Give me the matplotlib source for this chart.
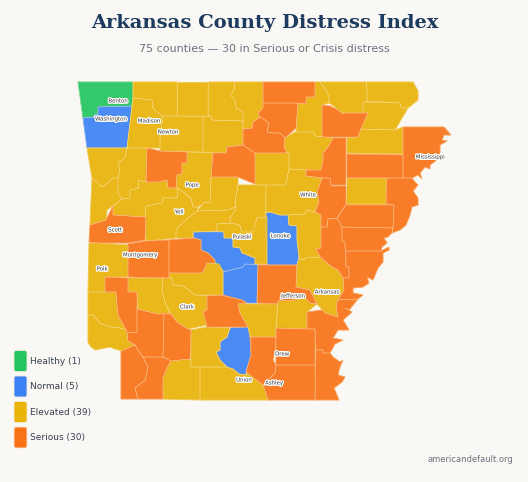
import matplotlib
matplotlib.use('Agg')
import matplotlib.pyplot as plt
from matplotlib.patches import Polygon, FancyBboxPatch
import matplotlib.patheffects as pe

# county outlines, in picture pixels
benton = [(78,82),(133,82),(133,98),(132,106),(98,107),(98,114),(94,115),(94,117),(83,118)]
washington = [(83,118),(94,117),(94,115),(98,114),(98,107),(132,106),(127,148),(87,148)]
carroll = [(133,82),(177,82),(177,116),(163,116),(157,112),(153,108),(152,100),(133,98)]
boone = [(177,82),(208,82),(208,116),(177,116)]
marion = [(208,82),(235,82),(234,90),(230,95),(235,100),(236,108),(243,112),(243,121),(212,120),(211,116),(208,116)]
baxter = [(235,82),(263,82),(263,108),(258,113),(260,117),(253,122),(252,128),(243,129),(243,112),(236,108),(235,100),(230,95),(234,90)]
madison = [(133,98),(152,100),(153,108),(157,112),(163,116),(160,138),(160,148),(127,148),(132,106)]
newton = [(163,116),(203,116),(203,152),(160,151),(160,138)]
searcy = [(203,116),(211,116),(212,120),(243,121),(243,145),(227,147),(226,153),(203,152)]
fulton = [(263,82),(315,82),(315,97),(306,97),(306,104),(298,103),(263,103)]
izard = [(263,103),(298,103),(296,128),(285,138),(280,133),(273,133),(267,132),(269,123),(265,120),(260,117),(258,113),(263,108)]
stone = [(243,129),(252,128),(253,122),(260,117),(265,120),(269,123),(267,132),(273,133),(280,133),(285,138),(284,147),(287,153),(255,153),(243,145)]
van_buren = [(227,147),(243,145),(255,153),(255,184),(238,177),(211,177),(213,153),(226,153)]
cleburne = [(255,153),(289,153),(289,169),(286,185),(255,185)]
sharp = [(315,82),(320,82),(326,90),(329,97),(329,103),(322,105),(322,137),(315,136),(314,132),(296,132),(298,104),(306,104),(306,97),(315,97)]
randolph = [(320,82),(366,82),(367,88),(367,101),(363,102),(363,113),(343,113),(338,110),(335,107),(329,103),(329,97),(326,90)]
clay = [(366,82),(413,82),(418,91),(418,100),(408,108),(401,108),(400,103),(367,101),(367,88)]
greene = [(363,102),(400,103),(401,108),(408,108),(395,130),(361,129),(368,113),(363,113)]
lawrence = [(322,105),(330,106),(338,110),(343,114),(345,113),(368,113),(361,129),(358,137),(322,137)]
independence = [(285,138),(295,132),(314,132),(315,136),(333,138),(328,147),(323,153),(323,160),(321,170),(306,170),(289,169),(289,153),(287,153),(284,145)]
jackson = [(333,138),(346,138),(346,185),(331,185),(330,178),(322,178),(306,176),(306,170),(321,170),(323,160),(323,153),(328,147)]
craighead = [(358,137),(361,129),(395,130),(403,127),(403,154),(347,153),(347,138)]
mississippi = [(403,127),(444,127),(451,135),(444,135),(442,140),(447,141),(440,145),(440,152),(437,160),(430,165),(430,169),(425,167),(420,173),(422,179),(418,175),(412,178),(403,178)]
poinsett = [(347,154),(403,155),(403,178),(387,178),(347,178)]
cross = [(347,178),(386,178),(386,204),(346,204)]
crittenden = [(387,178),(412,178),(415,182),(418,185),(413,191),(418,198),(418,205),(412,207),(410,215),(406,225),(400,230),(392,233),(393,227),(394,205),(386,204)]
st_francis = [(346,205),(394,205),(393,228),(342,227),(337,218)]
woodruff = [(331,186),(346,186),(346,204),(337,218),(328,219),(327,227),(321,227),(321,215),(315,212),(319,202),(317,192),(322,178),(330,178)]
white = [(289,169),(306,170),(306,176),(322,178),(317,192),(319,202),(315,212),(307,210),(305,214),(288,215),(280,215),(270,212),(265,213),(266,185),(285,185)]
lonoke = [(265,212),(270,212),(280,215),(288,215),(289,225),(297,226),(297,240),(299,252),(299,258),(297,265),(267,265)]
prairie = [(288,215),(305,214),(307,210),(315,212),(321,215),(321,248),(316,249),(320,257),(305,258),(304,260),(299,258),(297,240),(297,226),(289,225)]
monroe = [(321,227),(327,227),(328,219),(337,218),(342,227),(342,241),(345,242),(346,267),(349,267),(349,278),(343,278),(338,270),(332,267),(320,257),(316,249),(321,248)]
lee = [(342,227),(393,228),(392,233),(388,237),(384,238),(387,243),(382,247),(381,251),(345,251),(345,242),(342,241)]
phillips = [(346,251),(381,251),(389,247),(389,250),(383,253),(383,262),(378,268),(373,280),(367,277),(369,283),(363,287),(353,288),(353,293),(363,295),(358,299),(338,300),(344,290),(343,278),(349,278),(349,267),(346,267)]
arkansas = [(305,258),(320,257),(332,267),(338,270),(343,278),(344,290),(338,300),(336,306),(338,317),(325,313),(317,304),(310,290),(296,287),(297,265),(299,258),(304,260)]
desha = [(307,312),(323,310),(325,313),(338,317),(336,306),(338,300),(358,299),(349,310),(345,308),(352,312),(343,320),(349,330),(338,330),(333,338),(343,340),(335,344),(330,353),(323,353),(323,350),(316,350),(315,329),(307,329)]
chicot = [(316,350),(323,350),(323,353),(330,353),(333,357),(340,362),(343,360),(340,367),(338,375),(345,377),(342,382),(334,388),(339,400),(315,400)]
drew = [(276,328),(315,329),(315,365),(276,365)]
ashley = [(276,365),(315,365),(315,400),(268,400),(263,385),(275,373)]
bradley = [(250,337),(276,337),(275,352),(273,360),(276,365),(275,373),(263,385),(246,372),(251,355)]
lincoln = [(278,301),(295,300),(305,298),(310,303),(317,304),(307,312),(307,329),(276,328)]
jefferson = [(258,265),(297,265),(296,287),(310,290),(317,304),(310,303),(305,298),(295,300),(278,301),(278,304),(257,303)]
cleveland = [(238,304),(278,304),(276,328),(276,337),(250,337),(248,327),(240,313)]
grant = [(223,272),(243,267),(245,264),(258,265),(257,303),(247,303),(242,300),(223,296)]
pulaski = [(217,224),(233,223),(239,225),(242,232),(252,232),(257,218),(267,217),(267,264),(255,264),(255,258),(242,253),(240,248),(233,247),(233,238),(224,238),(224,232),(217,231)]
saline = [(193,232),(224,232),(224,238),(233,238),(233,247),(240,248),(242,253),(255,258),(255,264),(245,264),(243,267),(223,272),(215,263),(215,260),(208,253),(201,250),(201,240),(194,238)]
faulkner = [(238,185),(255,185),(266,185),(266,217),(257,218),(254,232),(242,232),(240,225),(230,223),(230,218),(236,208),(235,202)]
conway = [(211,177),(238,177),(238,185),(235,202),(236,207),(227,210),(197,211),(205,202),(210,203)]
pope = [(187,152),(213,153),(211,177),(210,203),(205,202),(198,207),(193,207),(191,198),(178,188),(176,188),(177,175),(182,174),(182,163),(187,163)]
johnson = [(147,148),(160,151),(187,152),(187,163),(182,163),(182,174),(177,175),(176,188),(168,188),(167,180),(160,182),(153,182),(146,182)]
franklin = [(127,148),(147,148),(146,182),(138,180),(139,188),(130,190),(130,198),(122,199),(118,193),(118,178),(120,170),(118,163),(125,158)]
crawford = [(87,148),(127,148),(125,158),(118,163),(120,170),(118,178),(113,178),(108,183),(102,187),(97,182),(92,178)]
sebastian = [(92,178),(97,182),(102,187),(108,183),(113,178),(118,178),(118,193),(122,199),(113,206),(107,210),(106,220),(90,225)]
logan = [(138,180),(146,182),(153,182),(160,182),(167,180),(168,188),(178,188),(177,198),(163,198),(162,203),(146,206),(145,217),(113,215),(113,206),(122,199),(130,198),(130,190),(139,188)]
scott = [(90,225),(106,220),(113,206),(113,215),(146,217),(145,240),(128,243),(98,243),(89,242)]
yell = [(146,206),(162,203),(163,198),(177,198),(178,188),(191,198),(193,207),(198,207),(197,211),(183,222),(176,230),(176,238),(146,241),(145,217)]
perry = [(197,211),(227,210),(236,207),(236,210),(230,218),(230,223),(217,224),(217,231),(193,232),(193,238),(176,238),(176,230),(183,222)]
garland = [(169,240),(194,238),(201,240),(201,250),(208,253),(215,260),(215,263),(207,263),(205,268),(202,273),(169,273)]
polk = [(89,243),(98,243),(128,245),(128,277),(105,277),(105,292),(88,292)]
montgomery = [(128,244),(146,241),(169,240),(169,278),(128,277)]
howard = [(105,277),(128,278),(128,292),(137,292),(137,332),(127,333),(126,330),(118,315),(117,305),(116,292),(105,292)]
sevier = [(88,292),(116,292),(117,305),(118,315),(126,330),(120,328),(110,327),(100,323),(93,315),(88,315)]
little_river = [(88,315),(93,315),(100,323),(110,327),(120,328),(126,330),(127,333),(128,341),(135,345),(128,348),(122,351),(115,349),(110,347),(105,348),(100,349),(95,350),(90,346),(88,342)]
pike = [(128,278),(163,278),(162,290),(165,302),(170,314),(158,314),(138,309),(137,292),(128,292)]
clark = [(163,278),(172,278),(173,285),(183,286),(195,295),(207,296),(207,310),(203,312),(207,325),(188,329),(177,322),(171,314),(165,302),(162,290)]
hot_spring = [(169,273),(202,273),(205,268),(207,263),(219,264),(223,271),(223,295),(195,295),(183,286),(173,285),(172,278),(169,278)]
dallas = [(207,296),(223,295),(242,300),(247,303),(238,304),(240,313),(248,327),(207,327),(203,312),(207,310)]
ouachita = [(191,330),(207,327),(230,328),(227,337),(220,342),(220,350),(216,352),(220,360),(227,367),(191,367)]
calhoun = [(230,328),(248,327),(251,337),(251,355),(246,372),(247,375),(239,374),(233,369),(227,367),(220,360),(216,352),(220,350),(220,342),(227,337)]
union = [(200,367),(227,367),(233,369),(239,374),(247,375),(246,372),(263,385),(268,400),(200,400)]
columbia = [(171,361),(190,359),(191,367),(200,367),(200,400),(163,399),(163,378),(167,368)]
nevada = [(164,313),(171,314),(177,322),(188,329),(191,330),(190,359),(171,361),(163,357)]
hempstead = [(137,309),(158,314),(164,313),(163,357),(143,357),(138,350),(135,345),(128,341),(127,333),(137,332)]
miller = [(121,351),(128,348),(135,345),(138,350),(143,357),(148,367),(145,380),(135,388),(138,399),(121,399)]
lafayette = [(143,357),(163,357),(171,361),(167,368),(163,378),(163,399),(138,399),(135,388),(145,380),(148,367)]

healthy_shapes = [benton]
normal_shapes = [washington, saline, lonoke, grant, calhoun]
elevated_shapes = [carroll, boone, marion, baxter, madison, newton, searcy, cleburne, sharp,
                   randolph, clay, greene, independence, craighead, cross, white, prairie,
                   arkansas, lincoln, cleveland, pulaski, faulkner, conway, pope, franklin,
                   crawford, sebastian, logan, yell, perry, polk, sevier, little_river, pike,
                   clark, hot_spring, ouachita, union, columbia]
serious_shapes = [fulton, izard, stone, van_buren, johnson, lawrence, jackson, woodruff,
                  mississippi, poinsett, crittenden, st_francis, lee, monroe, phillips, desha,
                  chicot, ashley, drew, bradley, jefferson, dallas, garland, montgomery, scott,
                  howard, hempstead, nevada, miller, lafayette]

status_names = ['Healthy', 'Normal', 'Elevated', 'Serious']
status_counts = [1, 5, 39, 30]
status_colors = ['#22c55e', '#3b82f6', '#eab308', '#f97316']
status_shapes = [healthy_shapes, normal_shapes, elevated_shapes, serious_shapes]

label_names = ['Benton', 'Washington', 'Madison', 'Newton', 'Pope', 'Yell', 'Scott', 'Pulaski',
               'Lonoke', 'White', 'Mississippi', 'Montgomery', 'Polk', 'Clark', 'Jefferson',
               'Arkansas', 'Drew', 'Union', 'Ashley']
label_x = [118, 111, 149, 168, 192, 179, 115, 242, 280, 308, 430, 140, 102, 187, 293, 327, 282, 244, 274]
label_y = [101, 119, 121, 132, 185, 212, 230, 237, 236, 195, 157, 255, 269, 307, 296, 292, 354, 380, 383]

bg = '#faf8f5'
fig = plt.figure(figsize=(5.28, 4.82), dpi=100, facecolor=bg)
ax = fig.add_axes([0, 0, 1, 1])
ax.set_xlim(0, 528)
ax.set_ylim(482, 0)
ax.axis('off')

# counties, fill first so the thin pale borders sit on top of all of them
for shapes, color in zip(status_shapes, status_colors):
    for shape in shapes:
        ax.add_patch(Polygon(shape, closed=True, facecolor=color, alpha=0.92, edgecolor=color,
                             linewidth=0.6, zorder=2))
for shapes in status_shapes:
    for shape in shapes:
        ax.add_patch(Polygon(shape, closed=True, fill=False, edgecolor='#fff3d6', alpha=0.5,
                             linewidth=0.4, joinstyle='round', zorder=3))

# county labels
for name, x, y in zip(label_names, label_x, label_y):
    ax.text(x, y, name, fontsize=3.9, color='#333333', ha='center', va='center', zorder=5,
            path_effects=[pe.withStroke(linewidth=1.8, foreground='white')])

ax.text(264.5, 23, 'Arkansas County Distress Index', fontsize=14, fontweight='bold',
        family='DejaVu Serif', color='#1e3a5f', ha='center', va='center')
ax.text(264, 49, '75 counties \u2014 30 in Serious or Crisis distress', fontsize=8,
        color='#6b7280', ha='center', va='center')

# legend
legend_y = [361, 386.5, 412, 437.5]
for name, count, color, y in zip(status_names, status_counts, status_colors, legend_y):
    ax.add_patch(FancyBboxPatch((14, y - 10.5), 13, 21, boxstyle='round,pad=0,rounding_size=2',
                                facecolor=color, edgecolor='#f3e9d8', linewidth=0.6, zorder=4))
    ax.text(30, y, f'{name} ({count})', fontsize=6.5, color='#374151', ha='left', va='center')

ax.text(513, 460, 'americandefault.org', fontsize=6, color='#6b7280', ha='right', va='center')

fig.savefig('out.png', dpi=100, facecolor=bg)
